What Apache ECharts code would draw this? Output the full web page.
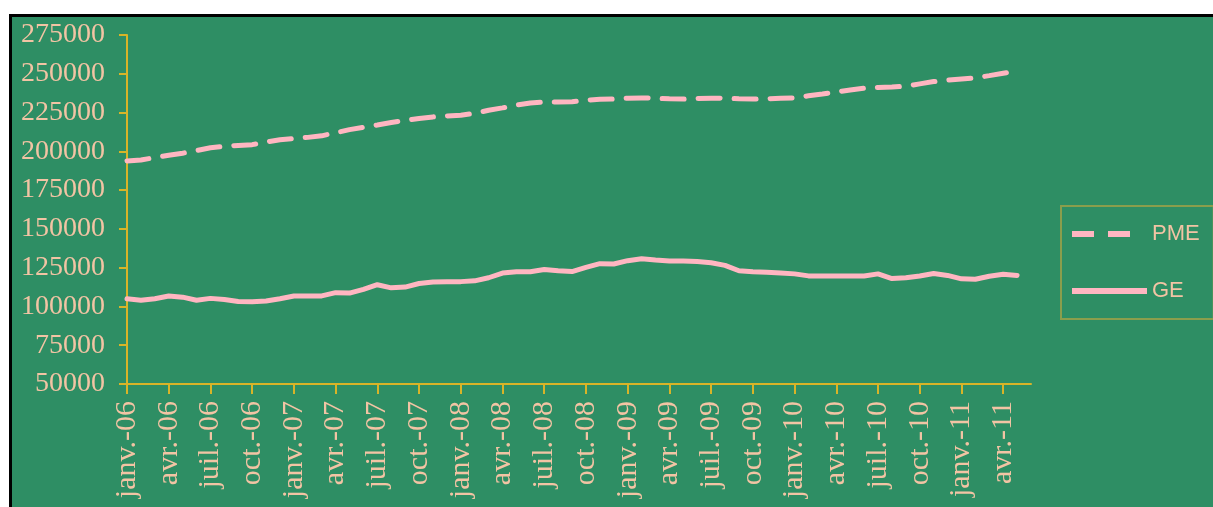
<!DOCTYPE html>
<html>
<head>
<meta charset="utf-8">
<script src="https://cdn.jsdelivr.net/npm/echarts@6/dist/echarts.min.js"></script>
<style>
  html, body { margin: 0; padding: 0; background: #ffffff; overflow: hidden; }
  #frame {
    position: absolute; left: 9px; top: 14px; width: 1220px; height: 510px;
    border: 3px solid #000000; background: #2e8e64;
  }
  #main { position: absolute; left: 0; top: 0; width: 1213px; height: 507px; }
</style>
</head>
<body>
<div id="frame"></div>
<div id="main"></div>
<script>
// mois janv.-06 .. juin-11
var monthNames = ['janv.', 'févr.', 'mars', 'avr.', 'mai', 'juin', 'juil.', 'août', 'sept.', 'oct.', 'nov.', 'déc.']
var years = ['06', '07', '08', '09', '10', '11']
var months = []
for (var y = 0; y < years.length; y++) {
  for (var m = 0; m < 12; m++) {
    if (y == 5 && m > 5) break
    months.push(monthNames[m] + '-' + years[y])
  }
}

// PME (ligne pointillée)
var pme = [
  193800, 194400, 196000, 197500, 198800, 200500, 202300, 203300, 203800, 204300, 206000, 207500,
  208300, 209000, 210000, 212000, 214000, 215500, 217000, 218600, 220000, 221200, 222200, 222800,
  223300, 224500, 226500, 228000, 229800, 231200, 231800, 231800, 232000, 233000, 233500, 233800,
  234200, 234400, 234200, 233900, 233700, 234000, 234300, 234200, 233900, 233700, 233900, 234200,
  234500, 235800, 237000, 238300, 239600, 240700, 241100, 241400, 242000, 243500, 245000, 245900,
  246700, 247400, 248800, 250300, 251800
]

// GE (ligne continue)
var ge = [
  105000, 104000, 105000, 106700, 106000, 104000, 105200, 104500, 103200, 103100, 103500, 105000,
  106700, 106700, 106800, 108900, 108600, 111000, 114000, 112000, 112500, 114800, 115800, 116000,
  116000, 116500, 118500, 121500, 122400, 122400, 123800, 123000, 122500, 125200, 127600, 127400,
  129500, 130800, 130000, 129300, 129300, 129000, 128200, 126500, 123000, 122300, 122000, 121500,
  121000, 119700, 119600, 119600, 119600, 119600, 121000, 118000, 118500, 119600, 121200, 120000,
  117800, 117500, 119500, 120700, 120000
]

var axisColor = '#d8b428'
var textColor = '#f2c4a4'
var lineColor = '#ffb6c1'

var chart = echarts.init(document.getElementById('main'), null, { renderer: 'canvas' })

var option = {
  backgroundColor: 'transparent',
  animation: false,
  grid: { left: 127, top: 35, right: 182, bottom: 123, containLabel: false },
  legend: {
    orient: 'vertical',
    left: 1061,
    top: 206,
    padding: [17, 14, 17, 11],
    itemWidth: 75,
    itemHeight: 14,
    itemGap: 35,
    borderColor: '#8a9e4c',
    borderWidth: 2,
    textStyle: { color: textColor, fontFamily: 'Liberation Sans', fontSize: 22 },
    data: [
      { name: 'PME', icon: 'path://M0,0h22v6h-22z M36,0h22v6h-22z M75,6' },
      { name: 'GE', icon: 'path://M0,0h75v6h-75z' }
    ]
  },
  xAxis: {
    type: 'category',
    data: months,
    boundaryGap: false,
    axisLine: { lineStyle: { color: axisColor, width: 2 } },
    axisTick: { interval: 2, length: 10, lineStyle: { color: axisColor, width: 2 } },
    axisLabel: {
      interval: 2,
      rotate: 90,
      margin: 17,
      color: textColor,
      fontFamily: 'Liberation Serif',
      fontSize: 30
    },
    splitLine: { show: false }
  },
  yAxis: {
    type: 'value',
    min: 50000,
    max: 275000,
    interval: 25000,
    axisLine: { show: true, lineStyle: { color: axisColor, width: 2 } },
    axisTick: { show: true, length: 8, lineStyle: { color: axisColor, width: 2 } },
    axisLabel: {
      margin: 22,
      color: textColor,
      fontFamily: 'Liberation Serif',
      fontSize: 28,
      formatter: function (v) { return String(v) }
    },
    splitLine: { show: false }
  },
  series: [
    {
      name: 'PME',
      type: 'line',
      data: pme,
      symbol: 'none',
      itemStyle: { color: lineColor },
      lineStyle: { color: lineColor, width: 5, type: [22, 14], cap: 'round' }
    },
    {
      name: 'GE',
      type: 'line',
      data: ge,
      symbol: 'none',
      itemStyle: { color: lineColor },
      lineStyle: { color: lineColor, width: 5, cap: 'round' }
    }
  ]
}

chart.setOption(option)
</script>
</body>
</html>
